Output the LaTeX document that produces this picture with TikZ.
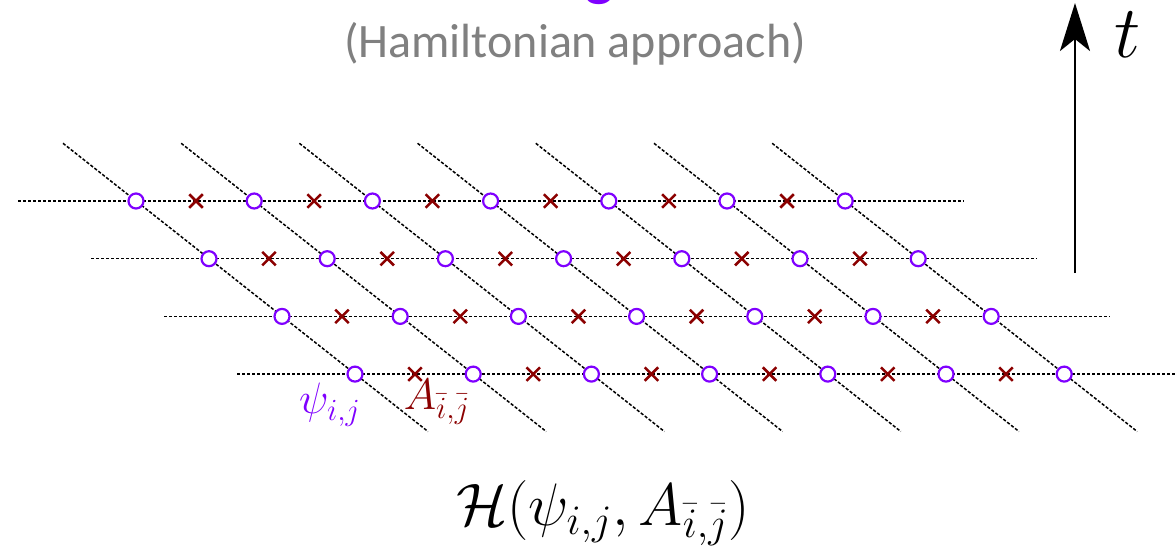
\RequirePackage{fix-cm}
\documentclass[tikz,border=0pt]{standalone}
\usepackage{amsmath,amssymb}
\usepackage{fontspec}
\setsansfont{Carlito}
\usepackage{tikz}
\usetikzlibrary{arrows.meta,shapes.misc}

\definecolor{psicol}{RGB}{127,0,255}
\definecolor{linkcol}{RGB}{139,0,0}
\definecolor{subgray}{RGB}{128,128,128}

\begin{document}
\begin{tikzpicture}[x=0.5pt,y=-0.5pt,
  grid/.style={line width=0.75pt, dash pattern=on 1.6pt off 0.9pt},
  site/.style={circle, draw=psicol, fill=white, line width=1.1pt,
               minimum size=7.5pt, inner sep=0pt},
  link/.style={cross out, draw=linkcol, line width=1.25pt,
               minimum size=5.5pt, inner sep=0pt},
  arr/.style={-{Stealth[length=24pt, width=15pt, inset=6pt]}, line width=1.4pt},
  lab/.style={font=\fontsize{22}{26}\selectfont, inner sep=0pt}]
\useasboundingbox (0,0) rectangle (1175,546);
\clip (0,0) rectangle (1175,546);
% ---- titles ----
\node[font=\sffamily\bfseries\fontsize{30}{36}\selectfont, text=psicol,
      anchor=base] (title) at (590,-5) {Lattice Gauge Theories};
\node[font=\sffamily\fontsize{24}{28}\selectfont, text=subgray,
      anchor=base] (sub) at (575,57) {(Hamiltonian approach)};
% ---- line ends ----
\foreach \r in {0,...,3}{
  \coordinate (w-\r) at ({18+73*\r},{201+57.7*\r});
  \coordinate (e-\r) at ({963.6+73*\r},{201+57.7*\r});
}
\foreach \c in {0,...,6}{
  \coordinate (n-\c) at ({63+118.2*\c},143.3);
  \coordinate (s-\c) at ({428+118.2*\c},431.5);
}
% ---- dashed lattice ----
\foreach \r in {0,...,3}
  \draw[grid] (w-\r) -- (e-\r);
\foreach \c in {0,...,6}
  \draw[grid] (n-\c) -- (s-\c);
% ---- matter sites and gauge links ----
\foreach \r in {0,...,3}{
  \foreach \c in {0,...,6}
    \node[site] (psi-\r-\c) at ({136+73*\r+118.2*\c},{201+57.7*\r}) {};
  \foreach \c in {0,...,5}
    \node[link] (A-\r-\c) at ({196+73*\r+118.2*\c},{201+57.7*\r}) {};
}
% ---- labels ----
\node[lab, text=psicol] (psilab) at (330,405) {$\psi_{i,j}$};
\node[lab, text=linkcol] (Alab) at (437,402) {$A_{\bar{i},\bar{j}}$};
\node[font=\fontsize{30}{36}\selectfont, anchor=base] (ham) at (603,525)
  {$\mathcal{H}(\psi_{i,j},A_{\bar{i},\bar{j}})$};
% ---- time axis ----
\coordinate (tbot) at (1075,273);
\coordinate (ttop) at (1075,3);
\draw[arr] (tbot) -- (ttop);
\node[font=\fontsize{37}{44}\selectfont, anchor=base] (tlab) at (1128,57) {$t$};
\end{tikzpicture}
\end{document}
